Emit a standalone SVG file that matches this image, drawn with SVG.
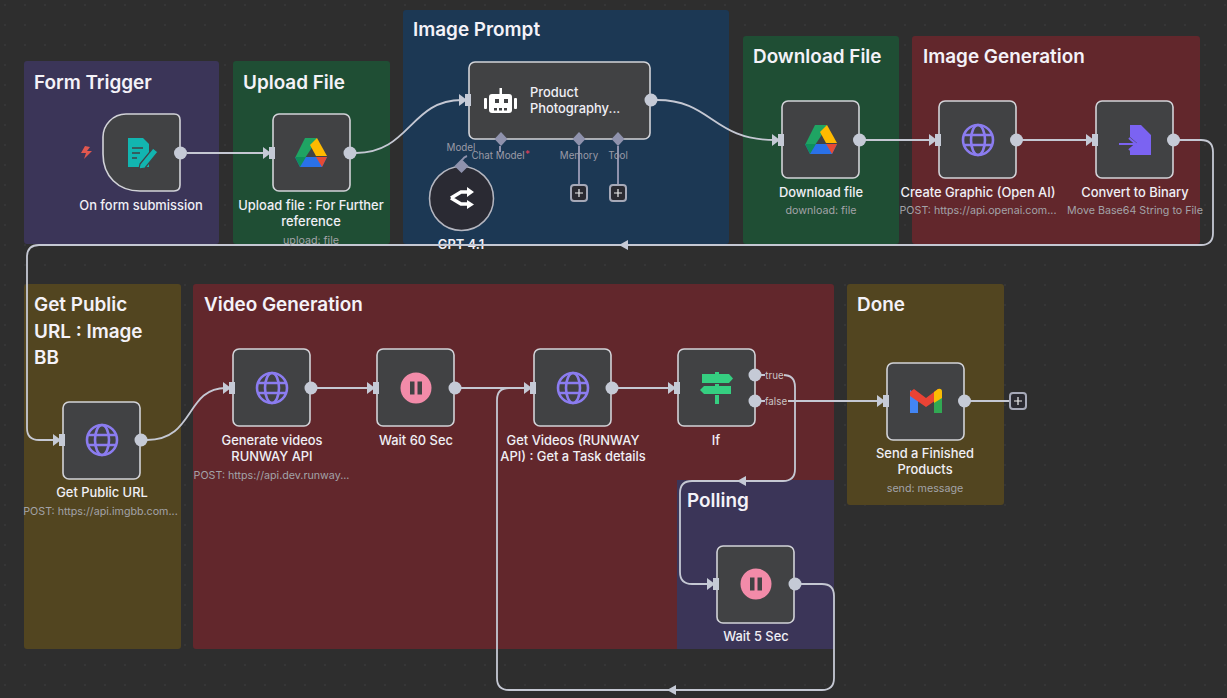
<svg xmlns="http://www.w3.org/2000/svg" width="1227" height="698" viewBox="0 0 1227 698">
<style>
text{font-family:Inter,"Noto Sans","Liberation Sans",sans-serif}
.sticky{stroke:none}
.title{font-size:18.900px;font-weight:600;fill:#f4f2f8}
.card{fill:#414244;stroke:#d2d3d8;stroke-width:1.6}
.name{font-size:12.900px;font-weight:500;fill:#f0eff5;text-anchor:middle}
.sub{font-size:10.700px;fill:#a3a3a8;text-anchor:middle}
.wire{fill:none;stroke:#c5c8d3;stroke-width:1.8}
.out{fill:#c5cad6}
.in{fill:#c5cad6}
.port{font-size:9.800px;fill:#9a9aa6;text-anchor:middle}
.cfg{fill:#8f92ad}
.cfgw{stroke:#8f92ad;stroke-width:2;fill:none}
.plus{fill:#2a2a31;stroke:#a6a9b8;stroke-width:2}
.plusl{stroke:#eee;stroke-width:1.2}
</style>
<defs>
<pattern id="dots" width="20" height="20" patternUnits="userSpaceOnUse" x="4" y="4"><circle cx="1" cy="1" r="0.7" fill="#434347"/></pattern>
<g id="inport"><path d="M-9 -6L-1 0L-9 6Z" class="in"/><rect x="-3" y="-6" width="6" height="12" class="in"/></g>
<g id="globe" fill="none" stroke="#8b7cf0" stroke-width="2.6"><circle r="15"/><ellipse rx="7" ry="15"/><path d="M-14 -5H14M-14 5H14"/></g>
<g id="pause"><circle r="15.500" fill="#f28ba9"/><rect x="-6" y="-6.500" width="4.500" height="13" fill="#414244"/><rect x="1.500" y="-6.500" width="4.500" height="13" fill="#414244"/></g>
<g id="drive"><path d="M-6 -15H6L0 -4L-6 5H-16Z" fill="#1fa463"/><path d="M6 -15L16 3H5L-1 -8Z" fill="#ffba00"/><path d="M-16 4L-11 14H11L16 4Z" fill="#2a71e8"/><path d="M-16 4L-11 14L-5 4Z" fill="#0f8f5a"/><path d="M16 4L11 14L5 4Z" fill="#e64a35"/></g>
</defs>
<rect width="1227" height="698" fill="#2e2e2e"/>
<rect width="1227" height="698" fill="url(#dots)"/>

<g id="stickies">
<g id="sticky-form"><rect class="sticky" x="24" y="61" width="195" height="183" rx="3" fill="#3b3558"/><text class="title" x="34" y="89">Form Trigger</text></g>
<g id="sticky-upload"><rect class="sticky" x="233" y="61" width="157" height="183" rx="3" fill="#1f4e34"/><text class="title" x="243" y="89">Upload File</text></g>
<g id="sticky-prompt"><rect class="sticky" x="403" y="10" width="326" height="234" rx="3" fill="#1c3854"/><text class="title" x="413" y="36">Image Prompt</text></g>
<g id="sticky-download"><rect class="sticky" x="743" y="36" width="156" height="208" rx="3" fill="#1f4e34"/><text class="title" x="753" y="63">Download File</text></g>
<g id="sticky-imagegen"><rect class="sticky" x="912" y="36" width="288" height="208" rx="3" fill="#62272c"/><text class="title" x="923" y="63">Image Generation</text></g>
<g id="sticky-public"><rect class="sticky" x="24" y="284" width="157" height="365" rx="3" fill="#524520"/><text class="title" x="34" y="311">Get Public</text><text class="title" x="34" y="338">URL : Image</text><text class="title" x="34" y="364">BB</text></g>
<g id="sticky-video"><rect class="sticky" x="193" y="284" width="641" height="365" rx="3" fill="#62272c"/><text class="title" x="204" y="311">Video Generation</text></g>
<g id="sticky-polling"><rect class="sticky" x="677" y="480" width="157" height="169" fill="#3b3558"/><text class="title" x="687" y="507">Polling</text></g>
<g id="sticky-done"><rect class="sticky" x="847" y="284" width="157" height="221" rx="3" fill="#524520"/><text class="title" x="857" y="311">Done</text></g>
</g>

<g id="node-gpt"><circle cx="461.500" cy="198.500" r="32" fill="#2a2a33" stroke="#b4b6c0" stroke-width="1.500"/><path class="cfg" d="M461.500 159l7 7-7 7-7-7z"/>
<path d="M451 198l10-6h7M451 198l10 6h7" fill="none" stroke="#fff" stroke-width="3.500"/><path d="M467 187l7 5-7 5zM467 200l7 4.500-7 4.500z" fill="#fff"/>
<text class="name" x="461" y="249" style="font-weight:600">GPT 4.1</text></g>

<g id="connectors">
<path class="wire" d="M187 153H265"/>
<path class="wire" d="M356 153C410 153 410 100 462 100"/>
<path class="wire" d="M657 100C712 100 712 140 775 140"/>
<path class="wire" d="M865 140H932"/>
<path class="wire" d="M1022 140H1089"/>
<path class="wire" d="M1179 140H1201Q1213 140 1213 152V233Q1213 245 1201 245H39Q27 245 27 257V428Q27 440 39 440H55"/>
<path d="M628 240V250L619 245Z" class="in"/>
<path class="wire" d="M147 440C195 440 185 388 226 388"/>
<path class="wire" d="M316 388H370"/>
<path class="wire" d="M460 388H527"/>
<path class="wire" d="M617 388H671"/>
<path class="wire" d="M761 375H783Q795 375 795 387V469Q795 481 783 481H692Q680 481 680 493V572Q680 584 692 584H710"/>
<path d="M746 476V486L737 481Z" class="in"/>
<path class="wire" d="M761 401H880"/>
<path class="wire" d="M801 584H822Q834 584 834 596V678Q834 690 822 690H509Q497 690 497 678V400Q497 388 509 388H527"/>
<path d="M676 685V695L667 690Z" class="in"/>
<path class="wire" d="M970 401H1009"/>
<path class="cfgw" d="M500 146V152"/>
<path class="cfgw" d="M579 146V184"/>
<path class="cfgw" d="M618 146V184"/>
<path class="cfgw" d="M462 160Q464 157 467 156"/>
</g>

<g id="node-form"><path class="card" d="M126 114H174Q180 114 180 120V185Q180 191 174 191H140C118 191 103 176 103 154V137C103 125 113 114 126 114Z"/>
<path d="M85 146l5 1-3 4h5l-8 8 2-6h-5z" fill="#e0574f"/>
<path d="M128 138h15l6 6v23h-21z" fill="#12b5b0"/><path d="M132 148h11M132 153h8M132 158h5" stroke="#414244" stroke-width="1.300"/><path d="M140 164l13-16 5 4-13 16-6 1z" fill="#12b5b0" stroke="#414244" stroke-width="1.200"/>
<circle class="out" cx="180.500" cy="153" r="6.500"/>
<text class="name" x="141" y="210">On form submission</text></g>

<g id="node-upload"><rect class="card" x="273" y="114" width="77" height="77" rx="6"/><use href="#drive" x="311" y="153"/><use href="#inport" x="272" y="153"/><circle class="out" cx="350" cy="153" r="6.500"/>
<text class="name" x="311" y="210">Upload file : For Further</text><text class="name" x="311" y="226">reference</text><text class="sub" x="311" y="244">upload: file</text></g>

<g id="node-agent"><rect class="card" x="469" y="62" width="181" height="77" rx="6"/><use href="#inport" x="468" y="100"/><circle class="out" cx="651" cy="100" r="6.500"/>
<g fill="#fff"><rect x="489" y="94" width="23" height="19" rx="3"/><rect x="484" y="98" width="3" height="11" rx="1"/><rect x="514" y="98" width="3" height="11" rx="1"/><rect x="499.500" y="88" width="2.500" height="6"/></g>
<g fill="#414244"><rect x="495" y="99" width="4" height="4"/><rect x="504" y="99" width="4" height="4"/><rect x="494" y="108" width="3" height="2.500"/><rect x="499" y="108" width="3" height="2.500"/><rect x="504" y="108" width="3" height="2.500"/></g>
<text class="name" style="text-anchor:start" x="530" y="97">Product</text><text class="name" style="text-anchor:start" x="530" y="113">Photography...</text>
<path class="cfg" d="M501 132l6.500 7-6.500 7-6.500-7z"/><path class="cfg" d="M579 132l6.500 7-6.500 7-6.500-7z"/><path class="cfg" d="M618 132l6.500 7-6.500 7-6.500-7z"/>
<text class="port" x="461" y="151">Model</text><text class="port" x="498" y="159">Chat Model</text><text x="525" y="158" font-size="9.800" fill="#e0405a">*</text><text class="port" x="579" y="159">Memory</text><text class="port" x="618" y="159">Tool</text>
<rect class="plus" x="571" y="185" width="16" height="16" rx="3"/><path class="plusl" d="M575 193h8M579 189v8"/>
<rect class="plus" x="610" y="185" width="16" height="16" rx="3"/><path class="plusl" d="M614 193h8M618 189v8"/></g>

<g id="node-download"><rect class="card" x="782" y="101" width="77" height="77" rx="6"/><use href="#drive" x="821" y="140"/><use href="#inport" x="781" y="140"/><circle class="out" cx="859.500" cy="140" r="6.500"/>
<text class="name" x="821" y="197">Download file</text><text class="sub" x="821" y="214">download: file</text></g>

<g id="node-create"><rect class="card" x="939" y="101" width="77" height="77" rx="6"/><use href="#globe" x="978" y="140"/><use href="#inport" x="938" y="140"/><circle class="out" cx="1016.500" cy="140" r="6.500"/>
<text class="name" x="978" y="197">Create Graphic (Open AI)</text><text class="sub" x="978" y="214">POST: https://api.openai.com...</text></g>

<g id="node-convert"><rect class="card" x="1096" y="101" width="77" height="77" rx="6"/><path d="M1130 125h11l10 10v20h-21v-6l7-6-7-6z" fill="#7b63f2"/><path d="M1119 144h16M1129 138l7 6-7 6" fill="none" stroke="#7b63f2" stroke-width="2.200"/><use href="#inport" x="1095" y="140"/><circle class="out" cx="1173.500" cy="140" r="6.500"/>
<text class="name" x="1135" y="197">Convert to Binary</text><text class="sub" x="1135" y="214">Move Base64 String to File</text></g>

<g id="node-public"><rect class="card" x="63" y="402" width="77" height="77" rx="6"/><use href="#globe" x="102" y="440"/><use href="#inport" x="62" y="440"/><circle class="out" cx="141" cy="440" r="6.500"/>
<text class="name" x="102" y="497">Get Public URL</text><text class="sub" x="100.500" y="515">POST: https://api.imgbb.com...</text></g>

<g id="node-generate"><rect class="card" x="233" y="349" width="77" height="77" rx="6"/><use href="#globe" x="272" y="388"/><use href="#inport" x="232" y="388"/><circle class="out" cx="311" cy="388" r="6.500"/>
<text class="name" x="272" y="445">Generate videos</text><text class="name" x="272" y="461">RUNWAY API</text><text class="sub" x="271.500" y="479">POST: https://api.dev.runway...</text></g>

<g id="node-wait60"><rect class="card" x="377" y="349" width="77" height="77" rx="6"/><use href="#pause" x="416" y="388"/><use href="#inport" x="376" y="388"/><circle class="out" cx="455" cy="388" r="6.500"/>
<text class="name" x="416" y="445">Wait 60 Sec</text></g>

<g id="node-getvideos"><rect class="card" x="534" y="349" width="77" height="77" rx="6"/><use href="#globe" x="573" y="388"/><use href="#inport" x="533" y="388"/><circle class="out" cx="612" cy="388" r="6.500"/>
<text class="name" x="573" y="445">Get Videos (RUNWAY</text><text class="name" x="573" y="461">API) : Get a Task details</text></g>

<g id="node-if"><rect class="card" x="678" y="349" width="77" height="77" rx="6"/>
<g fill="#35cf81"><path d="M702 374H729L733 378.500L729 383H702Z"/><path d="M704 386H731V394H704L700 390Z"/><rect x="715" y="372" width="4" height="2"/><rect x="715" y="384" width="4" height="2"/><rect x="715" y="395" width="4" height="9"/></g>
<use href="#inport" x="677" y="388"/><circle class="out" cx="755" cy="375" r="6.500"/><circle class="out" cx="755" cy="401" r="6.500"/>
<rect x="765" y="369" width="19" height="12" fill="#62272c"/><rect x="765" y="395" width="23" height="12" fill="#62272c"/>
<text x="774.500" y="379" font-size="9.800" fill="#c9c4c4" text-anchor="middle">true</text><text x="776" y="405" font-size="9.800" fill="#c9c4c4" text-anchor="middle">false</text>
<text class="name" x="716" y="445">If</text></g>

<g id="node-wait5"><rect class="card" x="717" y="546" width="77" height="77" rx="6"/><use href="#pause" x="756" y="584"/><use href="#inport" x="716" y="584"/><circle class="out" cx="795" cy="584" r="6.500"/>
<text class="name" x="756" y="641">Wait 5 Sec</text></g>

<g id="node-send"><rect class="card" x="887" y="363" width="77" height="77" rx="6"/>
<path d="M910 390V413H918V395Z" fill="#4285f4"/><path d="M942 390V413H934V395Z" fill="#31a853"/><path d="M910 392L914 389L926 398L938 389L942 392L942 396L926 407L910 396Z" fill="#ea4335"/><path d="M934 392L938 389Q942 388 942 392V398L934 403Z" fill="#fbbc04"/>
<use href="#inport" x="886" y="401"/><circle class="out" cx="964.500" cy="401" r="6.500"/>
<text class="name" x="925" y="458">Send a Finished</text><text class="name" x="925" y="474">Products</text><text class="sub" x="925" y="492">send: message</text></g>

<g id="end-plus"><rect class="plus" x="1010" y="393" width="16" height="16" rx="3"/><path class="plusl" d="M1014 401h8M1018 397v8"/></g>
</svg>
